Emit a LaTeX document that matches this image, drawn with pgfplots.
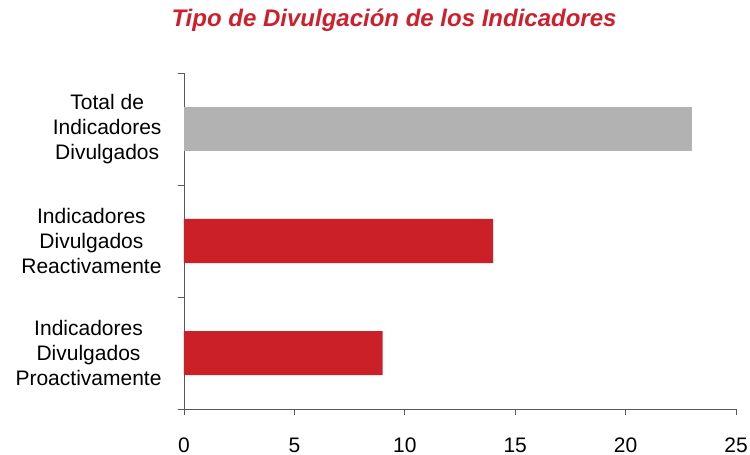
\documentclass[border=0pt]{standalone}
\usepackage{pgfplots}
\pgfplotsset{compat=1.18}
\usepackage{fontspec}
\setmainfont{Liberation Sans}
\definecolor{barred}{RGB}{204,32,41}
\definecolor{bargray}{RGB}{178,178,178}
\definecolor{titlered}{RGB}{206,32,44}
\begin{document}
\begin{tikzpicture}
\path[use as bounding box] (-184bp,-46bp) rectangle (566bp,409bp);
\begin{axis}[
  at={(0,0)}, anchor=south west,
  scale only axis, width=552bp, height=336bp,
  xmin=0, xmax=25, ymin=-0.5, ymax=2.5,
  axis x line*=bottom, axis y line*=left,
  axis line style={draw=black!65, line width=0.8bp},
  xtick={0,5,...,25},
  ytick={0,1,2},
  yticklabels={{Indicadores\\Divulgados\\Proactivamente},{Indicadores\\Divulgados\\Reactivamente},{Total de\\Indicadores\\Divulgados}},
  minor ytick={-0.5,0.5,1.5,2.5},
  major y tick style={draw=none},
  tick align=outside,
  major tick length=6bp, minor tick length=6bp,
  tick style={draw=black!65, line width=0.8bp},
  minor tick style={draw=black!65, line width=0.8bp},
  /pgf/number format/assume math mode=true,
  ticklabel style={font=\fontsize{21bp}{25bp}\selectfont, text=black},
  yticklabel style={align=center, anchor=east, xshift=-13bp},
  xticklabel style={anchor=north, inner sep=0bp, yshift=-22bp, text height=15bp, text depth=0bp},
]
\addplot[xbar, bar width=44bp, fill=barred, draw=none] coordinates {(9,0) (14,1)};
\addplot[xbar, bar width=44bp, fill=bargray, draw=none] coordinates {(23,2)};
\end{axis}
\node[anchor=base, font=\fontsize{24bp}{28bp}\selectfont\bfseries\itshape, text=titlered] at (210bp,382bp) {Tipo de Divulgación de los Indicadores};
\end{tikzpicture}
\end{document}
